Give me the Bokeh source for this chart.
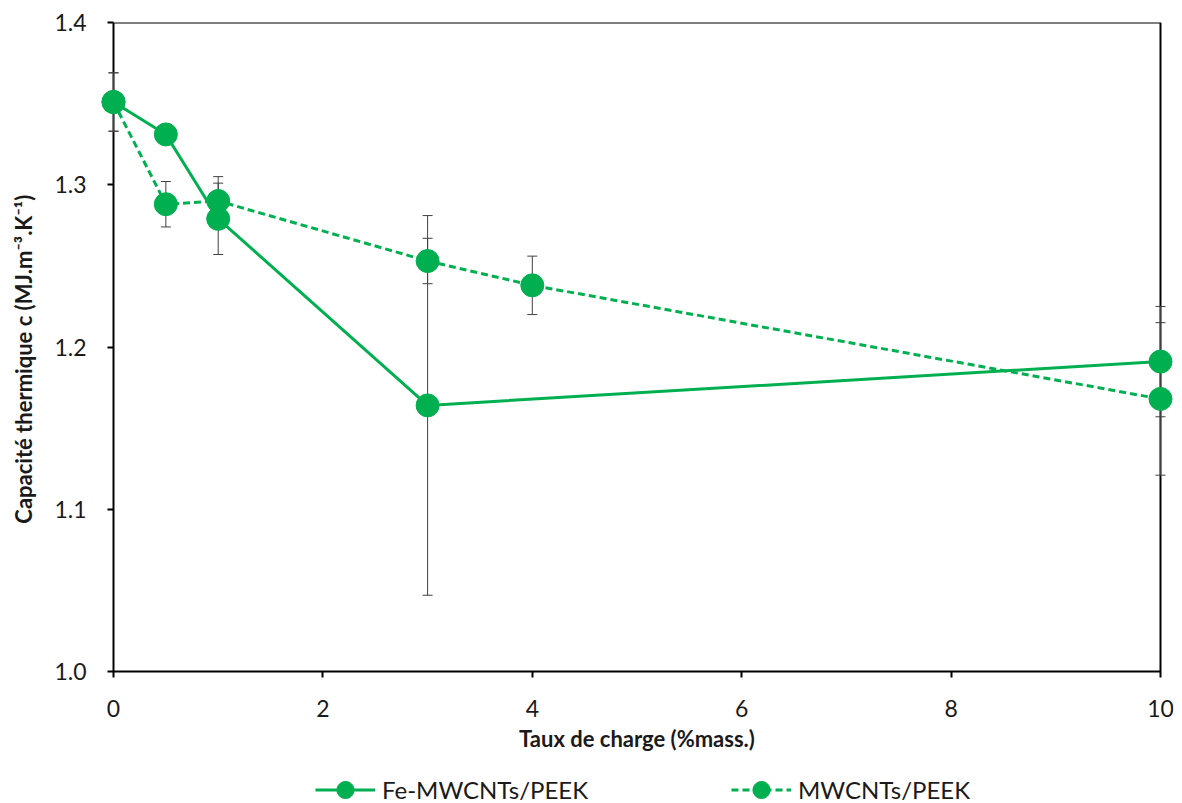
from bokeh.plotting import figure
from bokeh.models import (ColumnDataSource, Whisker, TeeHead, BoxAnnotation, Legend,
                          LegendItem, FixedTicker, PrintfTickFormatter, Range1d)
from bokeh.embed import file_html
from bokeh.resources import INLINE

# ---- data ----
x_fe = [0, 0.5, 1, 3, 10]
y_fe = [1.351, 1.331, 1.279, 1.164, 1.191]
e_fe = [0.018, 0.005, 0.022, 0.117, 0.034]

x_mw = [0, 0.5, 1, 3, 4, 10]
y_mw = [1.351, 1.288, 1.290, 1.253, 1.238, 1.168]
e_mw = [0.018, 0.014, 0.015, 0.014, 0.018, 0.047]

x_ticks = [0, 2, 4, 6, 8, 10]
y_ticks = [1.0, 1.1, 1.2, 1.3, 1.4]
series_labels = ["Fe-MWCNTs/PEEK", "MWCNTs/PEEK"]
x_title = "Taux de charge (%mass.)"
y_title = "Capacité thermique c (MJ.m⁻³.K⁻¹)"
X_MIN, X_MAX, Y_MIN, Y_MAX = 0, 10, 1.0, 1.4

GREEN = "#00B050"
ERR = "#404040"
TXT = "#1a1a1a"
FONT = "Lato"

PLOT_H = 649          # pixel height of the 1.0-1.4 box
EXTRA_H = 140         # room under the box (inside the frame) for x labels and legend
x_pad = 0.1242
y_ext = EXTRA_H * (Y_MAX - Y_MIN) / PLOT_H

p = figure(frame_width=1073, frame_height=PLOT_H + EXTRA_H,
           x_range=Range1d(X_MIN - x_pad, X_MAX + x_pad),
           y_range=Range1d(Y_MIN - y_ext, Y_MAX),
           output_backend="svg", toolbar_location=None,
           min_border_left=100, min_border_right=5, min_border_top=22, min_border_bottom=0)
p.grid.visible = False
p.outline_line_color = None
p.background_fill_color = "white"
p.border_fill_color = "white"

# plot box
box = BoxAnnotation(left=X_MIN, right=X_MAX, bottom=Y_MIN, top=Y_MAX,
                    fill_color=None, fill_alpha=0, line_color="black", line_alpha=1.0,
                    line_width=2, level="underlay")
p.add_layout(box)

# error bars
def add_err(xs, ys, es):
    src = ColumnDataSource(dict(x=xs, lo=[y - e for y, e in zip(ys, es)],
                                hi=[y + e for y, e in zip(ys, es)]))
    w = Whisker(base="x", lower="lo", upper="hi", source=src, dimension="height",
                line_color=ERR, line_width=1, level="underlay",
                upper_head=TeeHead(size=10, line_color=ERR, line_width=1),
                lower_head=TeeHead(size=10, line_color=ERR, line_width=1))
    p.add_layout(w)

add_err(x_fe, y_fe, e_fe)
add_err(x_mw, y_mw, e_mw)

src_fe = ColumnDataSource(dict(x=x_fe, y=y_fe))
src_mw = ColumnDataSource(dict(x=x_mw, y=y_mw))

l_mw = p.line("x", "y", source=src_mw, line_color=GREEN, line_width=3, line_dash="7 4")
l_fe = p.line("x", "y", source=src_fe, line_color=GREEN, line_width=3)
s_mw = p.scatter("x", "y", source=src_mw, size=23, fill_color=GREEN, line_color=GREEN)
s_fe = p.scatter("x", "y", source=src_fe, size=23, fill_color=GREEN, line_color=GREEN)

# axes (the box draws the axis lines at x=0 / y=1.0)
p.xaxis.axis_line_color = None
p.yaxis.axis_line_color = None
p.xaxis.fixed_location = Y_MIN
for ax in (p.xaxis, p.yaxis):
    ax.minor_tick_line_color = None
    ax.major_tick_line_color = "black"
    ax.major_tick_line_width = 2
    ax.major_label_text_font = FONT
    ax.major_label_text_font_size = "23px"
    ax.major_label_text_color = TXT
    ax.axis_label_text_font = FONT
    ax.axis_label_text_font_size = "22px"
    ax.axis_label_text_font_style = "bold"
    ax.axis_label_text_color = TXT

p.xaxis.major_tick_out = 6
p.xaxis.major_tick_in = 0
# y axis sits at frame edge, 13px left of x=0: ticks drawn from x=0 outward by 6px
p.yaxis.major_tick_in = 13
p.yaxis.major_tick_out = -7

p.xaxis.ticker = FixedTicker(ticks=x_ticks)
p.yaxis.ticker = FixedTicker(ticks=y_ticks)
p.yaxis.formatter = PrintfTickFormatter(format="%.1f")
p.xaxis.axis_label = x_title
# leading em spaces lift the visible title to the centre of the 1.0-1.4 box
p.yaxis.axis_label = "\u2003" * 7 + y_title
p.xaxis.major_label_standoff = 22
p.yaxis.major_label_standoff = 14
p.xaxis.axis_label_standoff = 5
p.yaxis.axis_label_standoff = 14

legend = Legend(items=[LegendItem(label=series_labels[0], renderers=[l_fe, s_fe]),
                       LegendItem(label=series_labels[1], renderers=[l_mw, s_mw])],
                location=(215, 0), orientation="horizontal",
                spacing=143, padding=0, margin=0, label_standoff=7,
                glyph_width=60, glyph_height=43,
                label_text_font=FONT, label_text_font_size="24px", label_text_color=TXT,
                border_line_color=None, background_fill_alpha=0)
p.add_layout(legend)

open("out.html", "w").write(file_html(p, INLINE))
